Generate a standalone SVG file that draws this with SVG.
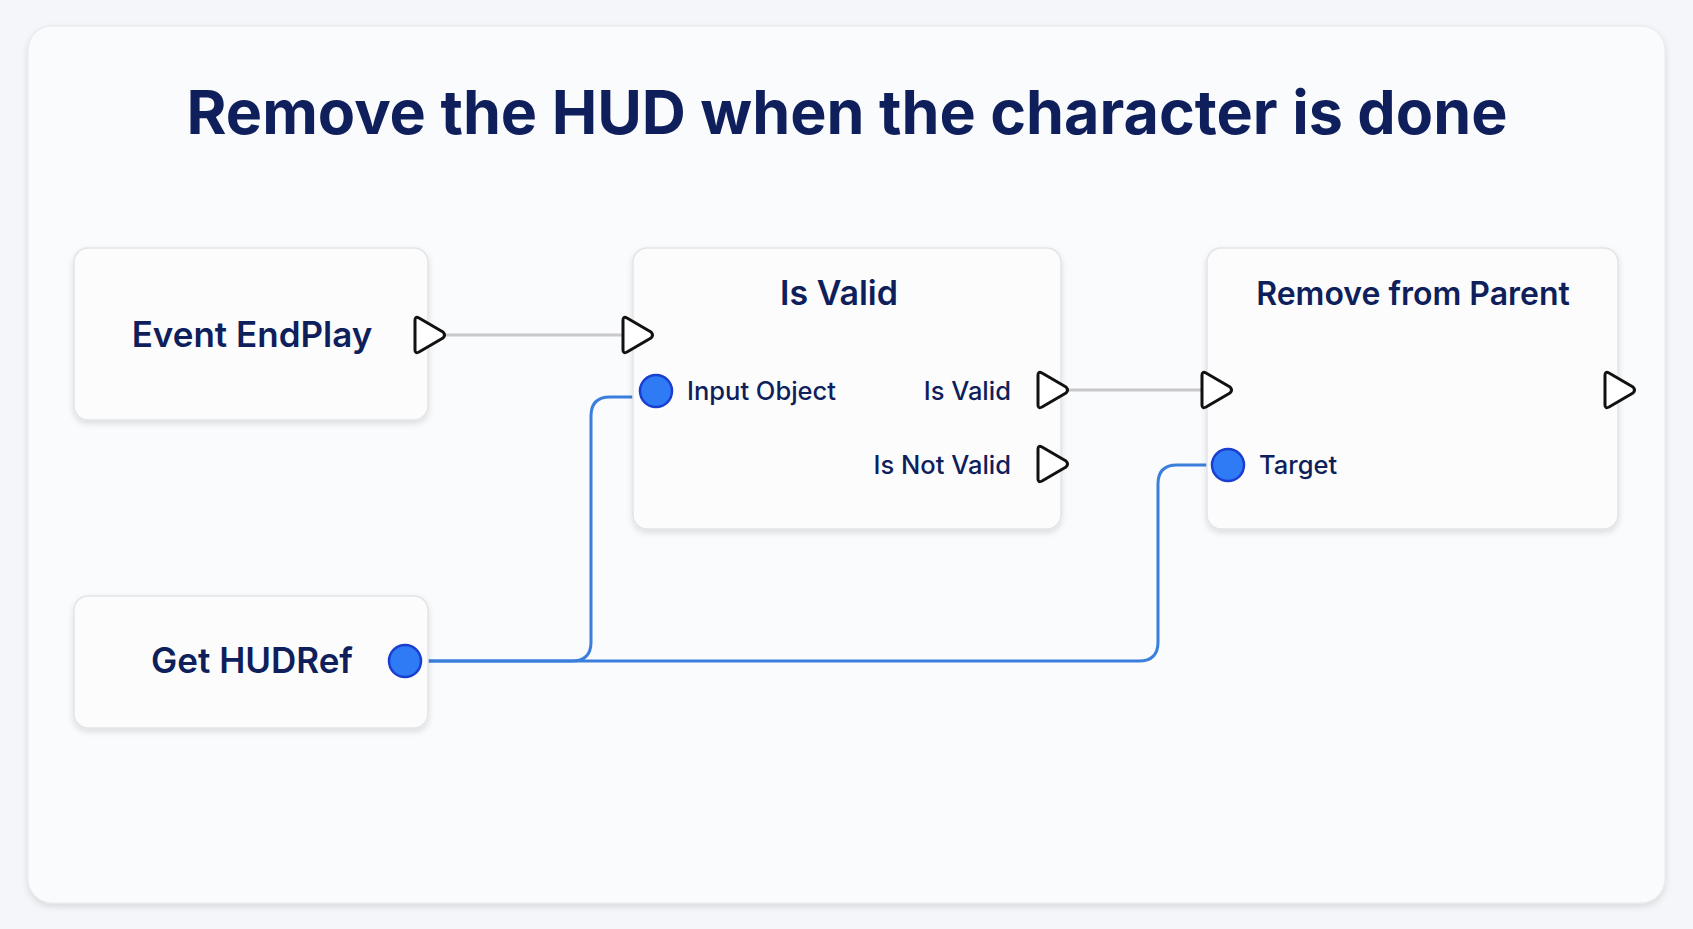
<svg xmlns="http://www.w3.org/2000/svg" width="1693" height="929" viewBox="0 0 1693 929">
<defs>
<filter id="sh" x="-10%" y="-10%" width="120%" height="130%"><feDropShadow dx="0" dy="3" stdDeviation="3" flood-color="#000" flood-opacity="0.12"/></filter>
<style>
.node{fill:#fcfcfd;stroke:#e2e4e8;stroke-width:1.5;filter:url(#sh)}
.t{font-family:Inter,"Liberation Sans",sans-serif;fill:#0f1f5c;font-weight:600}
.lbl{font-family:Inter,"Liberation Sans",sans-serif;fill:#0f1f5c;font-size:25.5px;font-weight:500}
.exec{fill:#fff;stroke:#111;stroke-width:3;stroke-linejoin:round}
.data{fill:#2f7bf5;stroke:#1a3fd0;stroke-width:2.5}
.wire{fill:none;stroke:#3a7fdc;stroke-width:3}
.ew{stroke:#c8c8cc;stroke-width:3}
</style>
</defs>
<rect width="1693" height="929" fill="#f4f6f9"/>
<rect x="28" y="26" width="1637" height="877" rx="24" fill="#fafbfc" stroke="#e6e8ec" filter="url(#sh)"/>
<text x="847" y="134" text-anchor="middle" class="t" font-size="61" style="font-weight:700">Remove the HUD when the character is done</text>
<g id="connectors">
<line class="ew" x1="445" y1="335" x2="622" y2="335"/>
<line class="ew" x1="1067" y1="390" x2="1201" y2="390"/>
<path class="wire" d="M405 661 H572 Q591 661 591 642 V416 Q591 397 610 397 H640"/>
<path class="wire" d="M405 661 H1139 Q1158 661 1158 642 V484 Q1158 465 1177 465 H1212"/>
</g>
<g id="event-endplay">
<rect class="node" x="74" y="248" width="354" height="172" rx="14"/>
<text class="t" x="252" y="347" text-anchor="middle" font-size="35">Event EndPlay</text>
<path class="exec" d="M415 320 L415 350 Q415 354 419 352 L443 338 Q446 335 443 332 L419 318 Q415 316 415 320 Z"/>
</g>
<g id="get-hudref">
<rect class="node" x="74" y="596" width="354" height="132" rx="14"/>
<text class="t" x="252" y="673" text-anchor="middle" font-size="35">Get HUDRef</text>
<circle class="data" cx="405" cy="661" r="16"/>
</g>
<g id="is-valid">
<rect class="node" x="633" y="248" width="428" height="281" rx="14"/>
<text class="t" x="839" y="305" text-anchor="middle" font-size="34">Is Valid</text>
<path class="exec" d="M623 320 L623 350 Q623 354 627 352 L651 338 Q654 335 651 332 L627 318 Q623 316 623 320 Z"/>
<circle class="data" cx="656" cy="391" r="16"/>
<text class="lbl" x="687" y="400">Input Object</text>
<text class="lbl" x="1011" y="400" text-anchor="end">Is Valid</text>
<path class="exec" d="M1038 375 L1038 405 Q1038 409 1042 407 L1066 393 Q1069 390 1066 387 L1042 373 Q1038 371 1038 375 Z"/>
<text class="lbl" x="1011" y="474" text-anchor="end">Is Not Valid</text>
<path class="exec" d="M1038 449 L1038 479 Q1038 483 1042 481 L1066 467 Q1069 464 1066 461 L1042 447 Q1038 445 1038 449 Z"/>
</g>
<g id="remove-from-parent">
<rect class="node" x="1207" y="248" width="411" height="281" rx="14"/>
<text class="t" x="1413" y="305" text-anchor="middle" font-size="32">Remove from Parent</text>
<path class="exec" d="M1202 375 L1202 405 Q1202 409 1206 407 L1230 393 Q1233 390 1230 387 L1206 373 Q1202 371 1202 375 Z"/>
<path class="exec" d="M1605 375 L1605 405 Q1605 409 1609 407 L1633 393 Q1636 390 1633 387 L1609 373 Q1605 371 1605 375 Z"/>
<circle class="data" cx="1228" cy="465" r="16"/>
<text class="lbl" x="1259" y="474">Target</text>
</g>
</svg>
